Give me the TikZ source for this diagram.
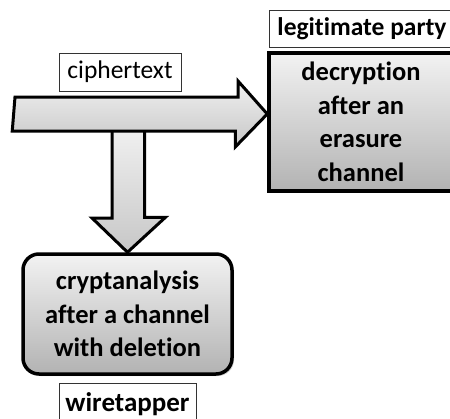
\documentclass[tikz,border=0pt]{standalone}
\usepackage{fontspec}
\setmainfont{Carlito}[Ligatures=NoCommon]
\usetikzlibrary{shadows}
\begin{document}
\begin{tikzpicture}[x=1pt,y=-1pt,
  tag/.style={draw=black!80,line width=0.8pt,fill=white,inner sep=0pt},
  block/.style={draw=black,line width=3.5pt,top color=white!95!black,bottom color=black!30,
    font=\bfseries\fontsize{26.5}{33.5}\selectfont,align=center,inner sep=0pt,
    drop shadow={shadow xshift=2pt,shadow yshift=-2pt,opacity=0.35}},
  fatarrow/.style={draw=black,line width=3pt,line join=miter,top color=black!6,bottom color=black!22}]
\useasboundingbox (0,0) rectangle (450,418);

% destination blocks
\node[block,minimum width=184pt,minimum height=138pt] (dec) at (361,122)
  {decryption\\after an\\erasure\\channel};
\node[block,rounded corners=16pt,minimum width=209pt,minimum height=120pt] (crypt) at (127.5,314)
  {cryptanalysis\\after a channel\\with deletion};

% role labels
\node[tag,minimum width=122pt,minimum height=38pt,font=\fontsize{25.5}{26}\selectfont] (ct) at (120,72) {ciphertext};
\node[tag,minimum width=186pt,minimum height=37pt,font=\bfseries\fontsize{25.5}{26}\selectfont] (lp) at (362,28.5) {legitimate party};
\node[tag,minimum width=137pt,minimum height=42pt,font=\bfseries\fontsize{27}{28}\selectfont] (wt) at (127.5,404) {wiretapper};

% anchor points of the block arrows
\coordinate (src) at (15,114);
\coordinate (tap) at (129,131);
\coordinate (hit) at (crypt.north);

% branch towards the wiretapper
\draw[fatarrow] (tap) ++(-17,0) -- ++(0,87) -- ++(-20,0) -- (hit) -- ++(38,-35) -- ++(-21,0) -- ++(0,-87);

% main flow to the legitimate party
\draw[fatarrow] (src) ++(0,-17) -- ++(223,0) -- ++(0,-16) -- (dec.west |- src) -- ++(-32,33) -- ++(0,-16) -- ++(-223,0) -- cycle;
\end{tikzpicture}
\end{document}
